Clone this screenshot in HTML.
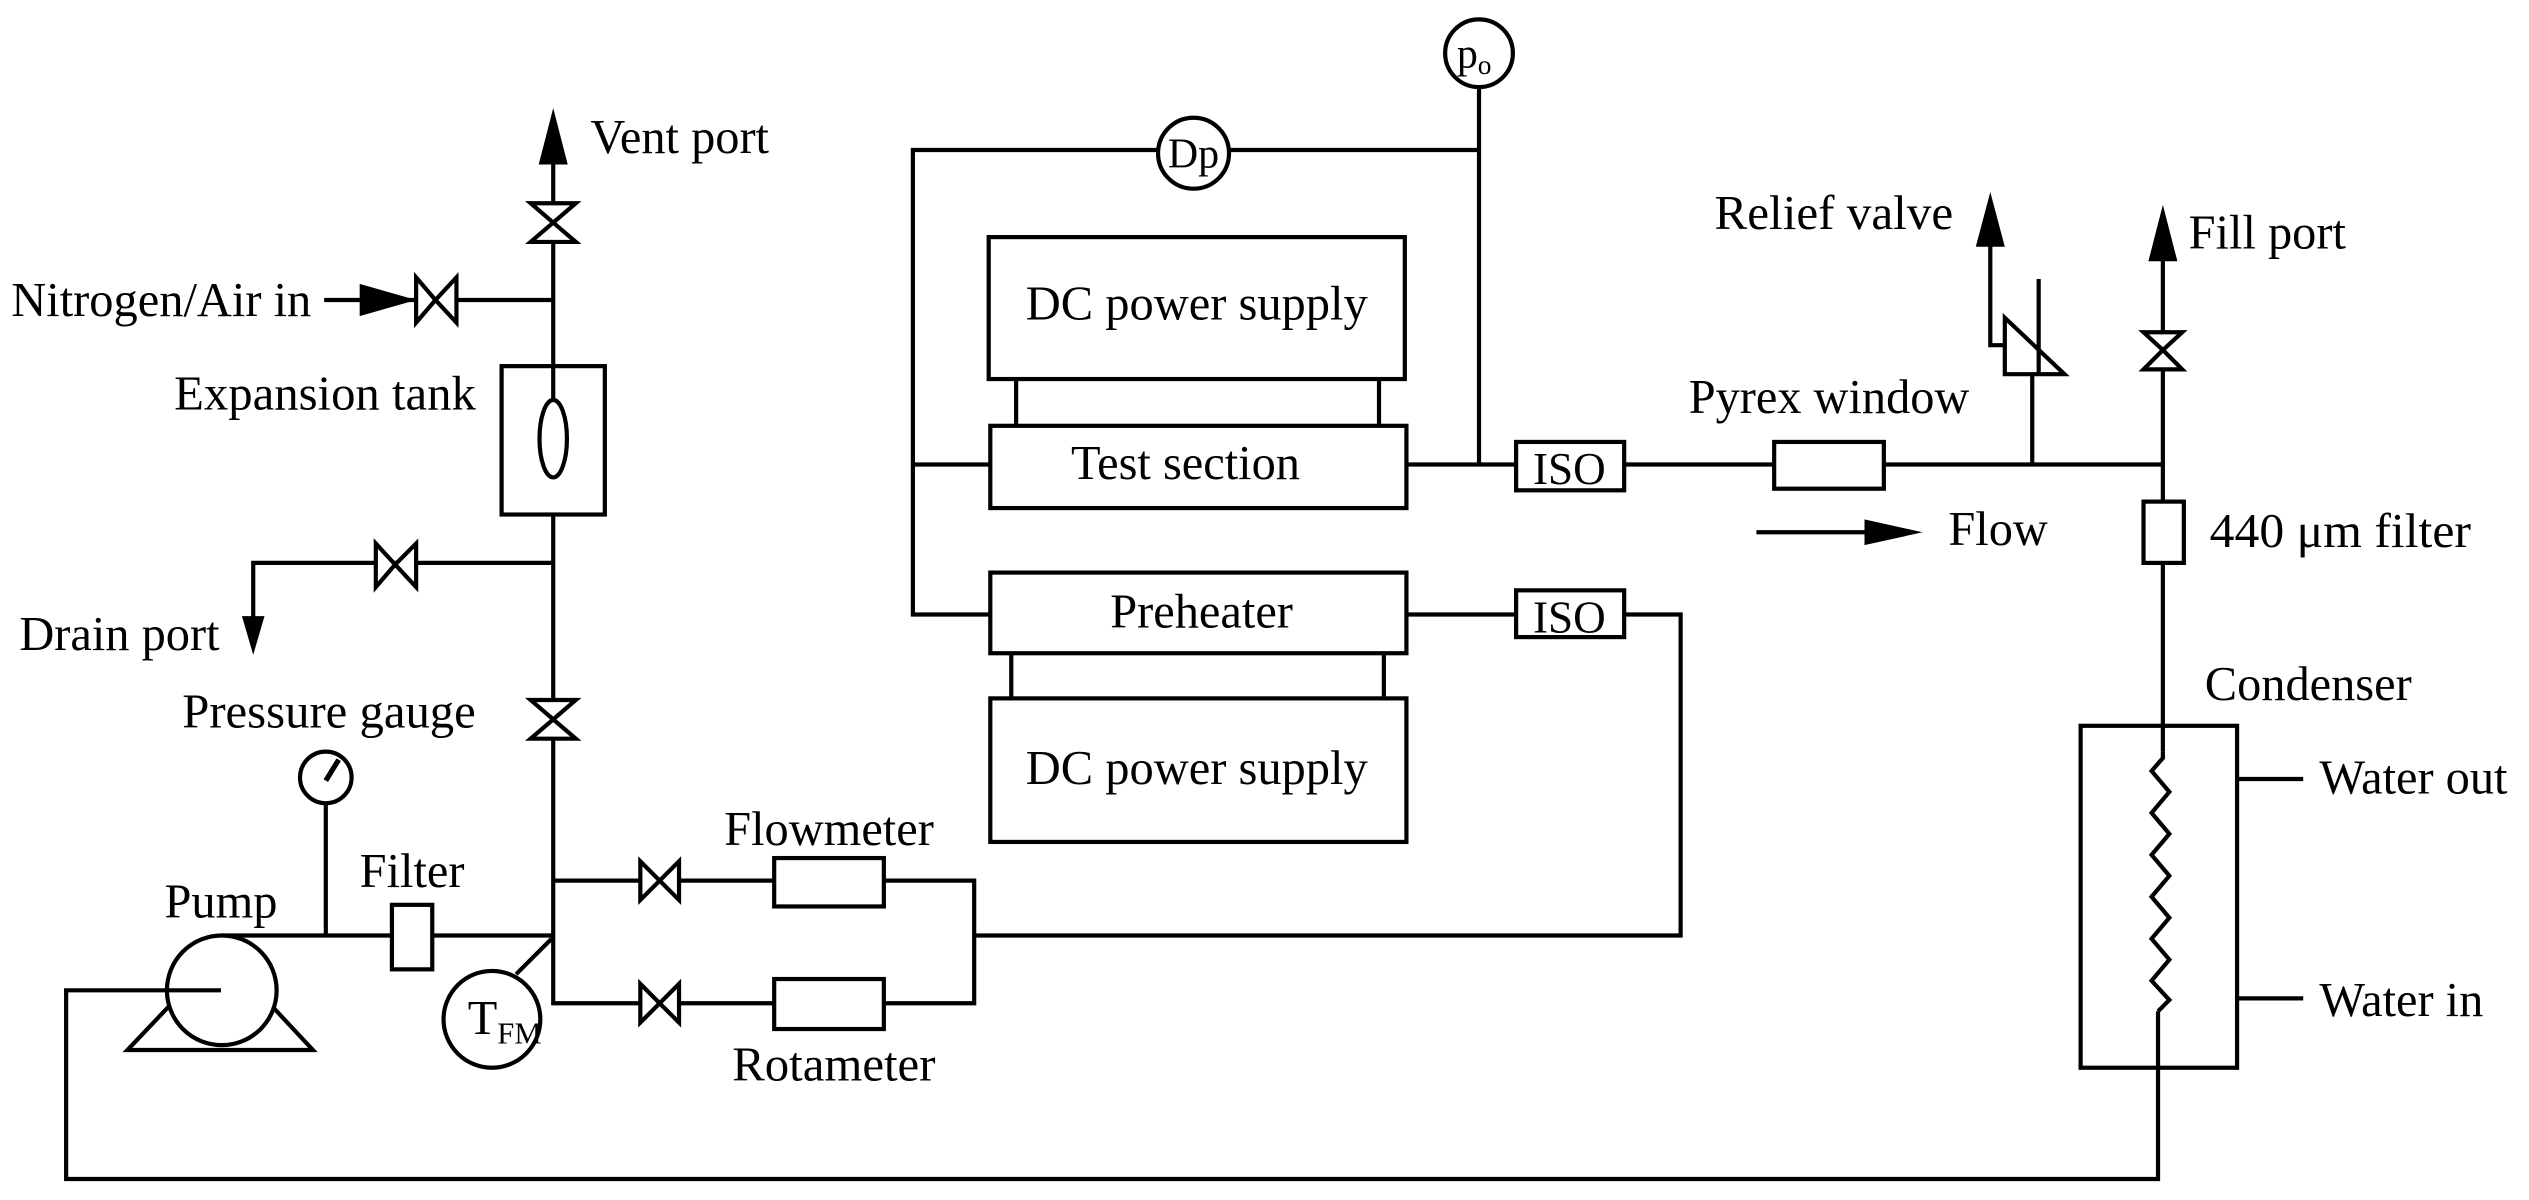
<!DOCTYPE html>
<html><head><meta charset="utf-8"><style>html,body{margin:0;padding:0;background:#fff}svg{display:block}</style></head>
<body>
<svg width="2529" height="1200" viewBox="0 0 1568 744" xmlns="http://www.w3.org/2000/svg" font-family="Liberation Serif, serif" font-size="30" fill="#000">
<g stroke="#000" stroke-width="2.6" fill="none">
<line x1="343" y1="95" x2="343" y2="580"/>
<polygon points="329,126 357,126 343,138" fill="#fff"/>
<polygon points="329,150 357,150 343,138" fill="#fff"/>
<line x1="201" y1="186" x2="343" y2="186"/>
<polygon points="258,172 258,200 270,186" fill="#fff"/>
<polygon points="283,172 283,200 270,186" fill="#fff"/>
<rect x="311" y="227" width="64" height="92" fill="#fff"/>
<line x1="343" y1="227" x2="343" y2="248"/>
<ellipse cx="343" cy="272" rx="8.5" ry="24" fill="#fff"/>
<polyline points="343,349 157,349 157,390"/>
<polygon points="233,337 233,364 245,350" fill="#fff"/>
<polygon points="258,337 258,364 245,350" fill="#fff"/>
<polygon points="329,434 357,434 343,446" fill="#fff"/>
<polygon points="329,458 357,458 343,446" fill="#fff"/>
<line x1="137" y1="580" x2="343" y2="580"/>
<line x1="202" y1="498" x2="202" y2="580"/>
<circle cx="202" cy="482" r="16" fill="#fff"/>
<line x1="202" y1="484" x2="210" y2="471" stroke-width="3.2"/>
<rect x="243" y="561" width="25" height="40" fill="#fff"/>
<polygon points="79,651 194,651 137,590" fill="#fff"/>
<circle cx="137.5" cy="614" r="34" fill="#fff"/>
<polyline points="137,614 41,614 41,731 1338,731 1338,627"/>
<line x1="320" y1="604" x2="342" y2="582"/>
<circle cx="305" cy="632" r="30" fill="#fff"/>
<polyline points="343,546 604,546 604,622 343,622 343,580"/>
<polygon points="397,534 397,558 409,546" fill="#fff"/>
<polygon points="421,534 421,558 409,546" fill="#fff"/>
<polygon points="397,610 397,634 409,622" fill="#fff"/>
<polygon points="421,610 421,634 409,622" fill="#fff"/>
<rect x="480" y="532" width="68" height="30" fill="#fff"/>
<rect x="480" y="607" width="68" height="31" fill="#fff"/>
<polyline points="604,580 1042,580 1042,381 1007,381"/>
<polyline points="917,93 566,93 566,381 614,381"/>
<line x1="566" y1="288" x2="614" y2="288"/>
<circle cx="740" cy="95" r="22" fill="#fff"/>
<line x1="917" y1="54" x2="917" y2="288"/>
<circle cx="917" cy="33" r="21" fill="#fff"/>
<rect x="613" y="147" width="258" height="88"/>
<line x1="630" y1="235" x2="630" y2="264"/>
<line x1="855" y1="235" x2="855" y2="264"/>
<rect x="614" y="264" width="258" height="51"/>
<rect x="614" y="355" width="258" height="50"/>
<line x1="627" y1="405" x2="627" y2="433"/>
<line x1="858" y1="405" x2="858" y2="433"/>
<rect x="614" y="433" width="258" height="89"/>
<line x1="872" y1="288" x2="940" y2="288"/>
<line x1="872" y1="381" x2="940" y2="381"/>
<rect x="940" y="274" width="67" height="30" fill="#fff"/>
<rect x="940" y="366" width="67" height="29" fill="#fff"/>
<line x1="1007" y1="288" x2="1341" y2="288"/>
<rect x="1100" y="274" width="68" height="29" fill="#fff"/>
<line x1="1260" y1="288" x2="1260" y2="232"/>
<polygon points="1243,197 1280,232 1243,232" fill="#fff"/>
<line x1="1264" y1="173" x2="1264" y2="232"/>
<polyline points="1243,214 1234,214 1234,150"/>
<line x1="1341" y1="160" x2="1341" y2="466"/>
<polygon points="1329,206 1353,206 1341,217" fill="#fff"/>
<polygon points="1329,229 1353,229 1341,217" fill="#fff"/>
<rect x="1329" y="311" width="25" height="38" fill="#fff"/>
<line x1="1089" y1="330" x2="1160" y2="330"/>
<rect x="1290" y="450" width="97" height="212"/>
<polyline points="1341,466 1341,470 1334,478 1345,491 1334,504 1345,517 1334,530 1345,543 1334,556 1345,569 1334,582 1345,595 1334,608 1345,620 1338,627"/>
<line x1="1387" y1="483" x2="1428" y2="483"/>
<line x1="1387" y1="619" x2="1428" y2="619"/>
</g>
<polygon points="343,67 334,102 352,102"/>
<polygon points="258,186 223,176 223,196"/>
<polygon points="157,406 150,382 164,382"/>
<polygon points="1234,119 1225,153 1243,153"/>
<polygon points="1341,127 1332,162 1350,162"/>
<polygon points="1192,330 1156,322 1156,338"/>
<text x="366" y="95">Vent port</text>
<text x="7" y="196" textLength="186" lengthAdjust="spacingAndGlyphs">Nitrogen/Air in</text>
<text x="108" y="254" textLength="187" lengthAdjust="spacingAndGlyphs">Expansion tank</text>
<text x="12" y="403">Drain port</text>
<text x="113" y="451" textLength="182" lengthAdjust="spacingAndGlyphs">Pressure gauge</text>
<text x="102" y="569">Pump</text>
<text x="223" y="550">Filter</text>
<text x="290" y="641" font-size="30">T<tspan font-size="19" dy="6">FM</tspan></text>
<text x="449" y="524" textLength="130" lengthAdjust="spacingAndGlyphs">Flowmeter</text>
<text x="454" y="670" textLength="126" lengthAdjust="spacingAndGlyphs">Rotameter</text>
<text x="742" y="198" text-anchor="middle" textLength="212" lengthAdjust="spacingAndGlyphs">DC power supply</text>
<text x="735" y="297" text-anchor="middle">Test section</text>
<text x="745" y="389" text-anchor="middle">Preheater</text>
<text x="742" y="486" text-anchor="middle" textLength="212" lengthAdjust="spacingAndGlyphs">DC power supply</text>
<text x="973" y="300" text-anchor="middle" font-size="28">ISO</text>
<text x="973" y="392" text-anchor="middle" font-size="28">ISO</text>
<text x="740" y="104" text-anchor="middle" font-size="26">Dp</text>
<text x="914" y="42" text-anchor="middle" font-size="26">p<tspan font-size="17" dy="4">o</tspan></text>
<text x="1063" y="142" textLength="148" lengthAdjust="spacingAndGlyphs">Relief valve</text>
<text x="1357" y="154">Fill port</text>
<text x="1047" y="256" textLength="174" lengthAdjust="spacingAndGlyphs">Pyrex window</text>
<text x="1208" y="338">Flow</text>
<text x="1370" y="339" textLength="162" lengthAdjust="spacingAndGlyphs">440 μm filter</text>
<text x="1367" y="434">Condenser</text>
<text x="1438" y="492">Water out</text>
<text x="1438" y="630">Water in</text>
</svg>
</body></html>
